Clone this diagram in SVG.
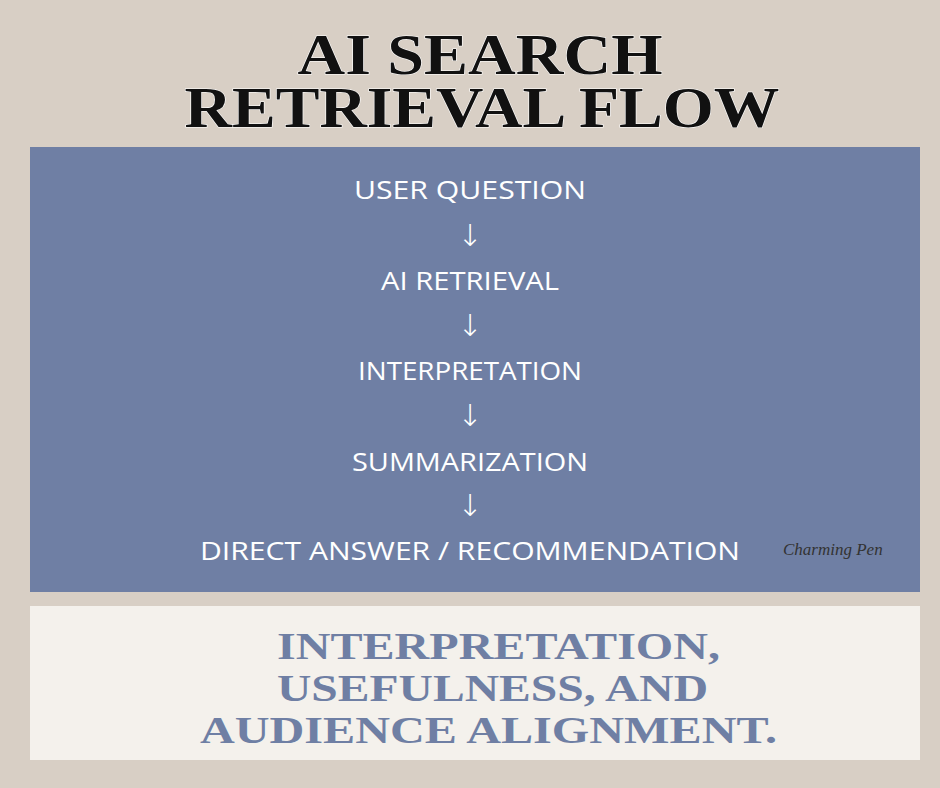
<svg xmlns="http://www.w3.org/2000/svg" width="940" height="788" viewBox="0 0 940 788">
<style>
.t{font-family:"Liberation Serif",serif;font-weight:bold;fill:#111;stroke:#fff;stroke-width:1;paint-order:stroke;text-anchor:middle}
.f{font-family:"Open Sans","Liberation Sans",sans-serif;fill:#fff;font-size:26px;text-anchor:middle}
.a{font-family:"DejaVu Sans",sans-serif;fill:#fff;font-size:30px;font-weight:300;text-anchor:middle}
.b{font-family:"Liberation Serif",serif;font-weight:bold;fill:#6f7fa4;font-size:38px}
</style>
<rect width="940" height="788" fill="#d8cfc5"/>
<g id="title">
<text class="t" x="480" y="74" font-size="56" textLength="365" lengthAdjust="spacingAndGlyphs">AI SEARCH</text>
<text class="t" x="482" y="127" font-size="56" textLength="595" lengthAdjust="spacingAndGlyphs">RETRIEVAL FLOW</text>
</g>
<rect x="30" y="147" width="890" height="445" fill="#6f7fa4"/>
<g id="n1"><text class="f" x="470" y="199" textLength="232" lengthAdjust="spacingAndGlyphs">USER QUESTION</text></g>
<g id="n2"><text class="f" x="470" y="290" textLength="178" lengthAdjust="spacingAndGlyphs">AI RETRIEVAL</text></g>
<g id="n3"><text class="f" x="470" y="380" textLength="224" lengthAdjust="spacingAndGlyphs">INTERPRETATION</text></g>
<g id="n4"><text class="f" x="470" y="471" textLength="236" lengthAdjust="spacingAndGlyphs">SUMMARIZATION</text></g>
<g id="n5"><text class="f" x="470" y="560" textLength="540" lengthAdjust="spacingAndGlyphs">DIRECT ANSWER / RECOMMENDATION</text></g>
<g id="connectors">
<text class="a" x="470" y="246">↓</text>
<text class="a" x="470" y="336">↓</text>
<text class="a" x="470" y="426">↓</text>
<text class="a" x="470" y="516">↓</text>
</g>
<text x="783" y="555" font-family="Liberation Serif,serif" font-style="italic" font-size="17" fill="#333">Charming Pen</text>
<rect x="30" y="606" width="890" height="154" fill="#f4f1ec"/>
<g id="bottom">
<text class="b" x="277" y="659" textLength="443" lengthAdjust="spacingAndGlyphs">INTERPRETATION,</text>
<text class="b" x="277" y="701" textLength="431" lengthAdjust="spacingAndGlyphs">USEFULNESS, AND</text>
<text class="b" x="200" y="743" textLength="577" lengthAdjust="spacingAndGlyphs">AUDIENCE ALIGNMENT.</text>
</g>
</svg>
